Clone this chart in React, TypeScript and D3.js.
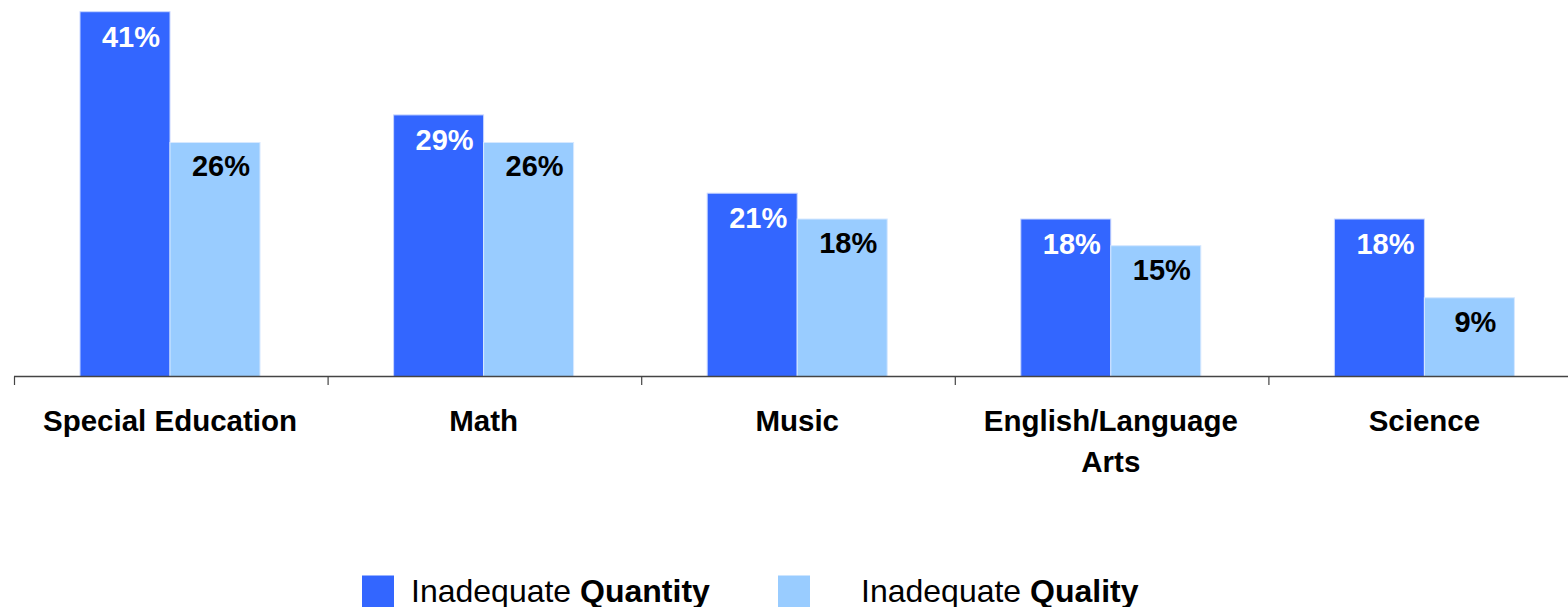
import React from "react";
import * as d3 from "d3";

const categories: string[][] = [
  ["Special Education"],
  ["Math"],
  ["Music"],
  ["English/Language", "Arts"],
  ["Science"],
];
const quantityValues = [41.0, 29.4, 20.6, 17.7, 17.7];
const qualityValues = [26.3, 26.3, 17.7, 14.7, 8.85];
const quantityLabels = ["41%", "29%", "21%", "18%", "18%"];
const qualityLabels = ["26%", "26%", "18%", "15%", "9%"];
const seriesNames = [
  { regular: "Inadequate ", bold: "Quantity" },
  { regular: "Inadequate ", bold: "Quality" },
];

const W = 1568;
const H = 607;
const FONT = "'Liberation Sans', Arial, Helvetica, sans-serif";
const C_QTY = "#3366FF";
const C_QLT = "#99CCFF";

export default function App() {
  const keys = categories.map((c) => c.join(" "));
  const x = d3.scaleBand<string>().domain(keys).range([14, 1582]).paddingInner(0).paddingOuter(0);
  const y = d3.scaleLinear().domain([0, 41]).range([376.5, 11.7]);
  const barW = 90;
  const base = y(0);

  return (
    <svg width={W} height={H} style={{ position: "absolute", left: 0, top: 0, background: "#fff" }}>
      {keys.map((k, i) => {
        const cx = (x(k) as number) + x.bandwidth() / 2 - 0.8;
        const x1 = cx - barW;
        const x2 = cx;
        const t1 = y(quantityValues[i]);
        const t2 = y(qualityValues[i]);
        return (
          <g key={k}>
            <rect x={x1} y={t1} width={barW} height={base - t1} fill={C_QTY} stroke="#c8d6ff" strokeWidth={1} />
            <rect x={x2} y={t2} width={barW} height={base - t2} fill={C_QLT} stroke="#d6e8ff" strokeWidth={1} />
            <text x={x1 + barW / 2 + 6} y={t1 + 35} textAnchor="middle" fontFamily={FONT} fontWeight="bold" fontSize={29} fill="#fff">
              {quantityLabels[i]}
            </text>
            <text x={x2 + barW / 2 + 6} y={t2 + 34} textAnchor="middle" fontFamily={FONT} fontWeight="bold" fontSize={29} fill="#000">
              {qualityLabels[i]}
            </text>
            <text textAnchor="middle" fontFamily={FONT} fontWeight="bold" fontSize={29.5} fill="#000">
              {categories[i].map((line, j) => (
                <tspan key={j} x={cx} y={431 + j * 41}>
                  {line}
                </tspan>
              ))}
            </text>
          </g>
        );
      })}
      <line x1={14} x2={W} y1={376.5} y2={376.5} stroke="#444" strokeWidth={1.3} />
      {keys.map((k) => (
        <line key={k} x1={(x(k) as number) + 0.5} x2={(x(k) as number) + 0.5} y1={376.5} y2={385} stroke="#444" strokeWidth={1.2} />
      ))}
      {/* legend */}
      <rect x={362} y={575.5} width={32} height={32} fill={C_QTY} />
      <text x={411} y={601.5} fontFamily={FONT} fontSize={32} fill="#000">
        {seriesNames[0].regular}
        <tspan fontWeight="bold">{seriesNames[0].bold}</tspan>
      </text>
      <rect x={778} y={575.5} width={32} height={32} fill={C_QLT} />
      <text x={861} y={601.5} fontFamily={FONT} fontSize={32} fill="#000">
        {seriesNames[1].regular}
        <tspan fontWeight="bold">{seriesNames[1].bold}</tspan>
      </text>
    </svg>
  );
}
